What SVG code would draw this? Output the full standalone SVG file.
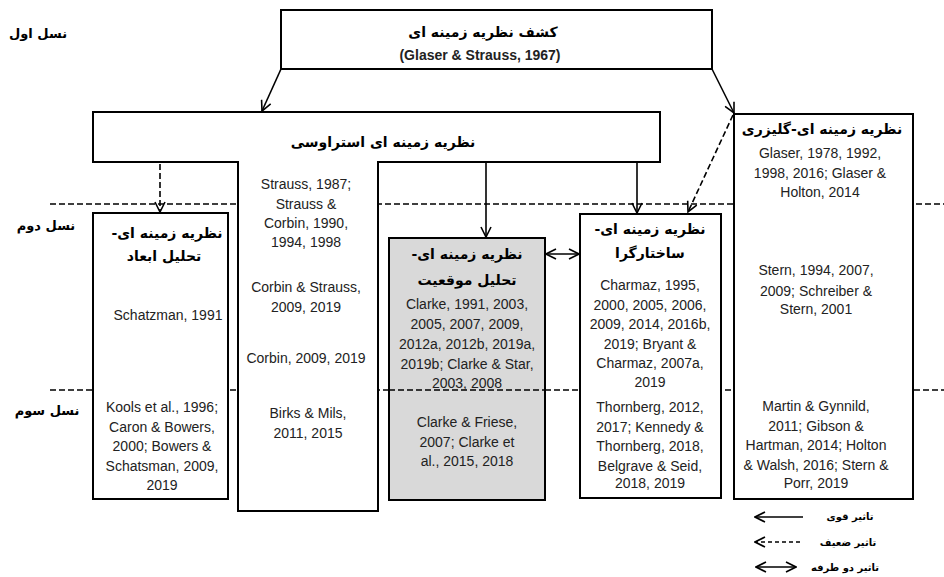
<svg xmlns="http://www.w3.org/2000/svg" width="944" height="577" viewBox="0 0 944 577">
<style>
.box{fill:#fff;stroke:#000;stroke-width:2}
.gray{fill:#d9d9d9;stroke:#000;stroke-width:2}
.ln{fill:none;stroke:#000;stroke-width:1.6}
.dl{fill:none;stroke:#000;stroke-width:1.6;stroke-dasharray:6,3}
.gl{fill:none;stroke:#000;stroke-width:1.5;stroke-dasharray:6,3}
.en{font-family:"Liberation Sans",Arial,sans-serif;font-size:14px;fill:#222;text-anchor:middle}
.fa{font-family:"DejaVu Sans","Noto Sans",sans-serif;font-weight:bold;fill:#000;text-anchor:middle}
</style>
<defs>
<marker id="ah" viewBox="0 0 12 12" refX="11" refY="6" markerWidth="12" markerHeight="12" markerUnits="userSpaceOnUse" orient="auto-start-reverse">
<path d="M1,1 L11,6 L1,11" fill="none" stroke="#000" stroke-width="1.6"/>
</marker>
</defs>
<rect width="944" height="577" fill="#fff"/>

<g id="gen-labels">
<text class="fa" direction="rtl" x="38" y="38" font-size="13">نسل اول</text>
<text class="fa" direction="rtl" x="46" y="230" font-size="13">نسل دوم</text>
<text class="fa" direction="rtl" x="47" y="415" font-size="13">نسل سوم</text>
</g>

<g id="gen-lines">
<path class="gl" d="M50,204 H243 M367,204 H944"/>
<path class="gl" d="M50,390 H944"/>
</g>

<g id="discovery">
<rect class="box" x="281" y="10" width="431" height="59"/>
<text class="fa" direction="rtl" x="483" y="37" font-size="14">کشف نظریه زمینه ای</text>
<text x="480" y="60" font-family="Liberation Sans,Arial,sans-serif" font-size="14" font-weight="bold" fill="#222" text-anchor="middle">(Glaser &amp; Strauss, 1967)</text>
</g>

<g id="straussian">
<path class="box" d="M93,112 H660 V162 H378 V511 H238 V162 H93 Z"/>
<text class="fa" direction="rtl" x="383" y="147" font-size="14">نظریه زمینه ای استراوسی</text>
<text class="en"><tspan x="306" y="189">Strauss, 1987;</tspan><tspan x="306" y="209">Strauss &amp;</tspan><tspan x="306" y="228">Corbin, 1990,</tspan><tspan x="306" y="247">1994, 1998</tspan></text>
<text class="en"><tspan x="306" y="292">Corbin &amp; Strauss,</tspan><tspan x="306" y="312">2009, 2019</tspan></text>
<text class="en" x="306" y="363">Corbin, 2009, 2019</text>
<text class="en"><tspan x="308" y="418">Birks &amp; Mils,</tspan><tspan x="308" y="438">2011, 2015</tspan></text>
</g>

<g id="dimensional">
<rect class="box" x="93" y="213" width="135" height="286"/>
<text class="fa" direction="rtl" font-size="14"><tspan x="167" y="238">نظریه زمینه ای-</tspan><tspan x="164" y="261">تحلیل ابعاد</tspan></text>
<text class="en" x="168" y="320">Schatzman, 1991</text>
<text class="en"><tspan x="162" y="412">Kools et al., 1996;</tspan><tspan x="162" y="432">Caron &amp; Bowers,</tspan><tspan x="162" y="451">2000; Bowers &amp;</tspan><tspan x="162" y="471">Schatsman, 2009,</tspan><tspan x="162" y="490">2019</tspan></text>
</g>

<g id="situational">
<rect class="gray" x="389" y="238" width="156" height="262"/>
<path class="gl" d="M389,390 H545"/>
<text class="fa" direction="rtl" font-size="14"><tspan x="467" y="259">نظریه زمینه ای-</tspan><tspan x="467" y="285">تحلیل موقعیت</tspan></text>
<text class="en"><tspan x="467" y="309">Clarke, 1991, 2003,</tspan><tspan x="467" y="329">2005, 2007, 2009,</tspan><tspan x="467" y="349">2012a, 2012b, 2019a,</tspan><tspan x="467" y="369">2019b; Clarke &amp; Star,</tspan><tspan x="467" y="388">2003, 2008</tspan></text>
<text class="en"><tspan x="467" y="427">Clarke &amp; Friese,</tspan><tspan x="467" y="447">2007; Clarke et</tspan><tspan x="467" y="466">al., 2015, 2018</tspan></text>
</g>

<g id="constructivist">
<rect class="box" x="580" y="214" width="141" height="284"/>
<text class="fa" direction="rtl" font-size="14"><tspan x="650" y="234">نظریه زمینه ای-</tspan><tspan x="650" y="258">ساختارگرا</tspan></text>
<text class="en"><tspan x="650" y="290">Charmaz, 1995,</tspan><tspan x="650" y="310">2000, 2005, 2006,</tspan><tspan x="650" y="329">2009, 2014, 2016b,</tspan><tspan x="650" y="349">2019; Bryant &amp;</tspan><tspan x="650" y="368">Charmaz, 2007a,</tspan><tspan x="650" y="387">2019</tspan></text>
<text class="en"><tspan x="650" y="412">Thornberg, 2012,</tspan><tspan x="650" y="432">2017; Kennedy &amp;</tspan><tspan x="650" y="451">Thornberg, 2018,</tspan><tspan x="650" y="471">Belgrave &amp; Seid,</tspan><tspan x="650" y="488">2018, 2019</tspan></text>
</g>

<g id="glaserian">
<rect class="box" x="734" y="114" width="179" height="385"/>
<text class="fa" direction="rtl" x="822" y="134" font-size="14">نظریه زمینه ای-گلیزری</text>
<text class="en"><tspan x="820" y="158">Glaser, 1978, 1992,</tspan><tspan x="820" y="178">1998, 2016; Glaser &amp;</tspan><tspan x="820" y="197">Holton, 2014</tspan></text>
<text class="en"><tspan x="816" y="275">Stern, 1994, 2007,</tspan><tspan x="816" y="296">2009; Schreiber &amp;</tspan><tspan x="816" y="314">Stern, 2001</tspan></text>
<text class="en"><tspan x="816" y="411">Martin &amp; Gynnild,</tspan><tspan x="816" y="431">2011; Gibson &amp;</tspan><tspan x="816" y="450">Hartman, 2014; Holton</tspan><tspan x="816" y="470">&amp; Walsh, 2016; Stern &amp;</tspan><tspan x="816" y="488">Porr, 2019</tspan></text>
</g>

<g id="connectors">
<path class="ln" d="M281,69 L262,111" marker-end="url(#ah)"/>
<path class="ln" d="M712,69 L734,113" marker-end="url(#ah)"/>
<path class="dl" d="M160,164 V212" marker-end="url(#ah)"/>
<path class="ln" d="M486,162 V237" marker-end="url(#ah)"/>
<path class="ln" d="M637,162 V213" marker-end="url(#ah)"/>
<path class="dl" d="M733,115 L688,212" marker-end="url(#ah)"/>
<path class="ln" d="M546,254 H579" marker-start="url(#ah)" marker-end="url(#ah)"/>
</g>

<g id="legend">
<path class="ln" d="M803,517 H755" marker-end="url(#ah)"/>
<text class="fa" direction="rtl" x="850" y="520" font-size="10">تاثیر قوی</text>
<path class="ln" d="M800,542 H755" stroke-dasharray="4,3" marker-end="url(#ah)"/>
<text class="fa" direction="rtl" x="848" y="546" font-size="10">تاثیر ضعیف</text>
<path class="ln" d="M756,567 H796" marker-start="url(#ah)" marker-end="url(#ah)"/>
<text class="fa" direction="rtl" x="845" y="571" font-size="10">تاثیر دو طرفه</text>
</g>
</svg>
